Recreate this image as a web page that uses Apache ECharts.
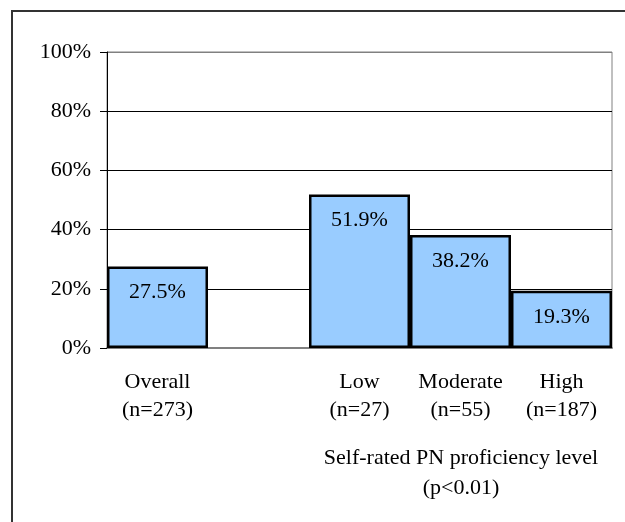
<!DOCTYPE html>
<html>
<head>
<meta charset="utf-8">
<script src="https://cdn.jsdelivr.net/npm/echarts@6/dist/echarts.min.js"></script>
<style>
  html, body { margin: 0; padding: 0; background: #fff; }
  #main { width: 625px; height: 522px; }
</style>
</head>
<body>
<div id="main"></div>
<script>
// categories, the empty one is the gap between Overall and the groups
var categories = ['Overall\n(n=273)', '', 'Low\n(n=27)', 'Moderate\n(n=55)', 'High\n(n=187)'];
var values = [27.5, '-', 51.9, 38.2, 19.3];
var yTicks = [0, 20, 40, 60, 80, 100];
var groupName = 'Self-rated PN proficiency level\n(p<0.01)';

var font = 'Liberation Serif';
var chart = echarts.init(document.getElementById('main'));

var option = {
  animation: false,
  backgroundColor: '#fff',
  title: {
    text: groupName,
    left: 461,
    top: 443,
    padding: 0,
    textAlign: 'center',
    textStyle: {
      fontFamily: font,
      fontSize: 22,
      fontWeight: 'normal',
      color: '#000',
      lineHeight: 30
    }
  },
  graphic: [{
    type: 'rect',
    shape: { x: 12, y: 11, width: 700, height: 600 },
    style: { fill: 'none', stroke: '#333', lineWidth: 2 },
    silent: true
  }],
  grid: {
    left: 107,
    right: 13,
    top: 52,
    bottom: 174,
    show: true,
    borderColor: '#808080',
    borderWidth: 1
  },
  xAxis: {
    type: 'category',
    data: categories,
    axisLine: { lineStyle: { color: '#808080', width: 2 } },
    axisTick: { show: false },
    axisLabel: {
      interval: 0,
      margin: 20,
      fontFamily: font,
      fontSize: 22,
      lineHeight: 28,
      color: '#000'
    }
  },
  yAxis: {
    type: 'value',
    min: yTicks[0],
    max: yTicks[yTicks.length - 1],
    interval: 20,
    axisLine: { show: true, lineStyle: { color: '#000', width: 1 } },
    axisTick: { show: true, length: 7, lineStyle: { color: '#000' } },
    axisLabel: {
      margin: 16,
      formatter: '{value}%',
      fontFamily: font,
      fontSize: 22,
      color: '#000'
    },
    splitLine: {
      lineStyle: {
        color: ['#808080', '#000', '#000', '#000', '#000', '#808080'],
        width: 1
      }
    }
  },
  series: [{
    type: 'bar',
    data: values,
    barCategoryGap: 0,
    itemStyle: {
      color: '#99CCFF',
      borderColor: '#000',
      borderWidth: 2.5
    },
    label: {
      show: true,
      position: 'insideTop',
      distance: 15,
      formatter: '{c}%',
      fontFamily: font,
      fontSize: 22,
      color: '#000'
    }
  }]
};

chart.setOption(option);
</script>
</body>
</html>
